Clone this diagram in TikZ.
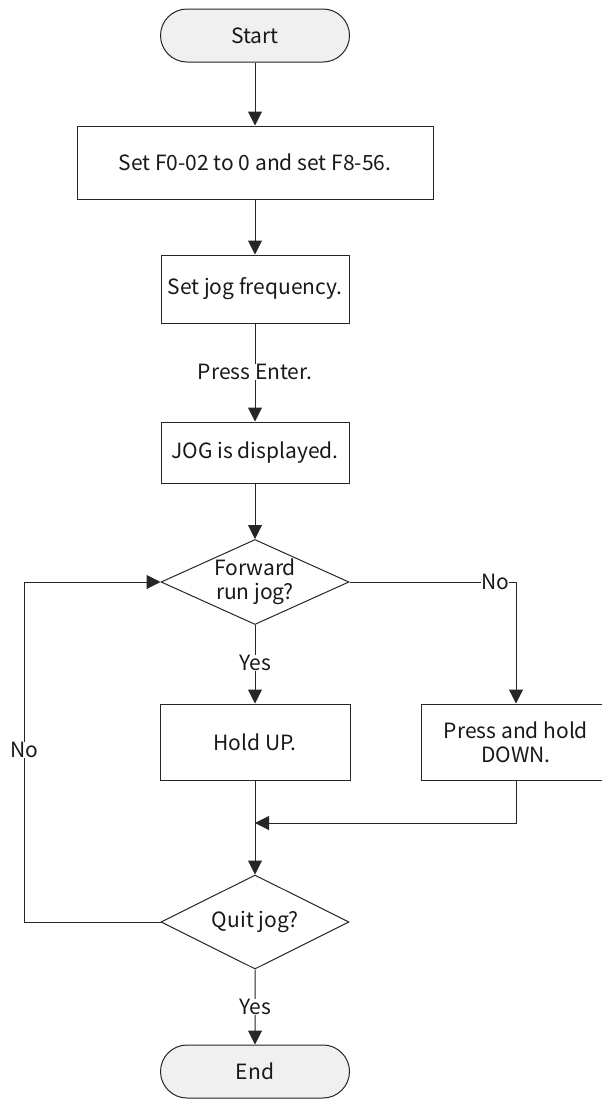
\documentclass[tikz,border=0pt]{standalone}
\usepackage{fontspec}
\setmainfont{Noto Sans CJK SC}
\usetikzlibrary{shapes.geometric,shapes.misc,arrows.meta}
\begin{document}
\begin{tikzpicture}[x=1pt,y=-1pt,
  every node/.style={font=\fontsize{21}{24}\selectfont, text=black!90},
  line/.style={draw=black!85, line width=1pt},
  arr/.style={line, -{Triangle[length=14pt,width=14pt]}},
  term/.style={rounded rectangle, draw=black!85, line width=1pt, fill=black!6, minimum width=189pt, minimum height=53pt, inner sep=0pt},
  proc/.style={rectangle, draw=black!85, line width=1pt, fill=white, inner sep=0pt, align=center},
  dec/.style={diamond, draw=black!85, line width=1pt, fill=white, inner sep=0pt, aspect=2.2, align=center},
  lbl/.style={fill=white, inner sep=0.5pt}
]
\useasboundingbox (0,0) rectangle (602,1104);

\node[term] (start) at (255,35.5) {Start};
\node[proc, minimum width=356pt, minimum height=73pt] (b1) at (255,162.5) {Set F0-02 to 0 and set F8-56.};
\node[proc, minimum width=188pt, minimum height=68pt] (b2) at (255,289) {Set jog frequency.};
\node[proc, minimum width=188pt, minimum height=61pt] (b3) at (255,452.5) {JOG is displayed.};
\node[dec, minimum width=188pt, minimum height=85pt] (d1) at (255,582) {\baselineskip=20pt Forward\\run jog?};
\node[proc, minimum width=190pt, minimum height=76pt] (hold) at (255,742) {Hold UP.};
\node[proc, minimum width=190pt, minimum height=76pt] (down) at (516,742) {Press and hold\\DOWN.};
\node[dec, minimum width=188pt, minimum height=94pt] (d2) at (255,922) {Quit jog?};
\node[term] (end) at (255,1071.5) {End};

\coordinate (noc) at (516,582);
\coordinate (merge) at (255,823);
\coordinate (loopb) at (24,922);

\draw[arr] (start) -- (b1);
\draw[arr] (b1) -- (b2);
\draw[arr] (b2) -- (b3);
\draw[arr] (b3) -- (d1);
\draw[arr] (d1) -- (hold);
\draw[arr] (d1.east) -- (noc) -- (down.north);
\draw[line] (hold) -- (merge);
\draw[arr] (merge) -- (d2);
\draw[arr] (down.south) |- (merge);
\draw[arr] (d2.west) -- (loopb) |- (d1.west);
\draw[arr] (d2) -- (end);

\node[lbl] (lpe) at (255,372) {Press Enter.};
\node[lbl] (ly1) at (255,663) {Yes};
\node[lbl] (ln1) at (495,582) {No};
\node[lbl] (ln2) at (24,750) {No};
\node[lbl] (ly2) at (255,1007) {Yes};
\end{tikzpicture}
\end{document}
